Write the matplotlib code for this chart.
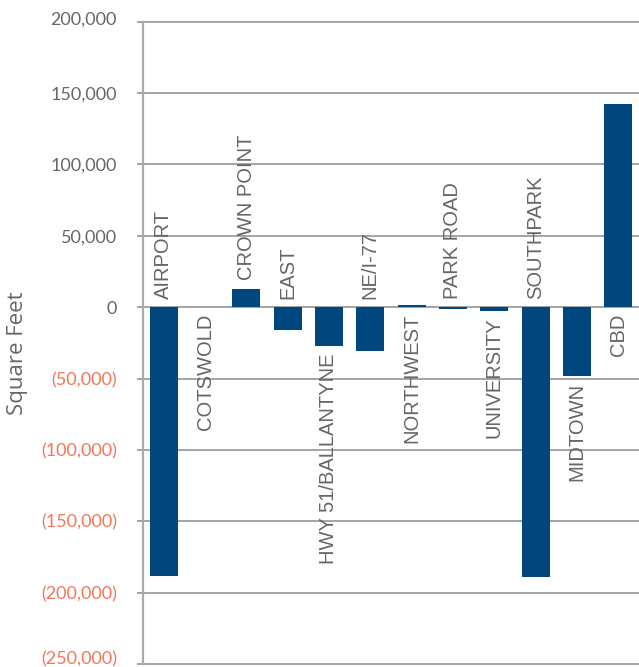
import matplotlib
matplotlib.use("Agg")
import matplotlib.pyplot as plt
from matplotlib.ticker import FuncFormatter
from matplotlib.transforms import ScaledTranslation

categories = ["AIRPORT", "COTSWOLD", "CROWN POINT", "EAST", "HWY 51/BALLANTYNE",
              "NE/I-77", "NORTHWEST", "PARK ROAD", "UNIVERSITY", "SOUTHPARK",
              "MIDTOWN", "CBD"]
values = [-188000, 0, 13000, -16000, -27500, -30500, 1700, -1100, -2500,
          -189000, -48500, 142000]
label_side = ["above", "below", "above", "above", "below", "above", "below",
              "above", "below", "above", "below", "below"]
y_ticks = [-250000, -200000, -150000, -100000, -50000, 0, 50000, 100000, 150000, 200000]

plt.rcParams["font.family"] = ["Lato", "DejaVu Sans"]

BAR = "#00467F"
GRID = "#8c8c8c"
TXT = "#666666"
NEG = "#F2765A"
CAT_FONT = ["Liberation Sans", "DejaVu Sans"]
YL_FONT = ["Open Sans", "DejaVu Sans"]

W, H = 639, 667
fig = plt.figure(figsize=(W / 100, H / 100), dpi=100)
ax = fig.add_axes([143 / W, 1 - 664 / H, 1 - 143 / W, (664 - 21.7) / H])

x = list(range(len(categories)))
ax.bar(x, values, width=0.68, color=BAR, zorder=3)
ax.set_xlim(-0.5, len(categories) - 0.5)
ax.set_ylim(-250000, 200000)
ax.set_yticks(y_ticks)

def fmt(v, pos=None):
    v = int(round(v))
    if v < 0:
        return "({:,})".format(-v)
    return "{:,}".format(v)

ax.yaxis.set_major_formatter(FuncFormatter(fmt))
ax.tick_params(axis="y", length=4.3, width=1.1, color=GRID, pad=14.4,
               labelsize=13, labelcolor=TXT)
labels = ax.get_yticklabels()
for t, v in zip(labels, y_ticks):
    t.set_color(NEG if v < 0 else TXT)
# keep the edge labels inside the figure, as in the reference
labels[0].set_transform(labels[0].get_transform() + ScaledTranslation(0, 6 / 100, fig.dpi_scale_trans))
labels[-1].set_transform(labels[-1].get_transform() + ScaledTranslation(0, 4 / 100, fig.dpi_scale_trans))
ax.set_xticks([])

ax.yaxis.grid(True, color=GRID, lw=1.1)
for ln in ax.get_ygridlines():
    ln.set_clip_on(False)
ax.set_axisbelow(True)
for s in ["top", "right", "bottom"]:
    ax.spines[s].set_visible(False)
ax.spines["left"].set_color("#aaaaaa")
ax.spines["left"].set_linewidth(1.6)

for xi, v, cat, side in zip(x, values, categories, label_side):
    if side == "above":
        ax.annotate(cat, (xi, max(0, v)), xytext=(0, 6), textcoords="offset points",
                    rotation=90, ha="center", va="bottom", fontsize=14.5, color=TXT,
                    family=CAT_FONT)
    else:
        ax.annotate(cat, (xi, min(0, v)), xytext=(0, -5), textcoords="offset points",
                    rotation=90, ha="center", va="top", fontsize=14.5, color=TXT,
                    family=CAT_FONT)

fig.text(18 / W, 1 - 353 / H, "Square Feet", rotation=90, ha="center", va="center",
         fontsize=16, color=TXT, family=YL_FONT)

fig.savefig("out.png", dpi=100)
